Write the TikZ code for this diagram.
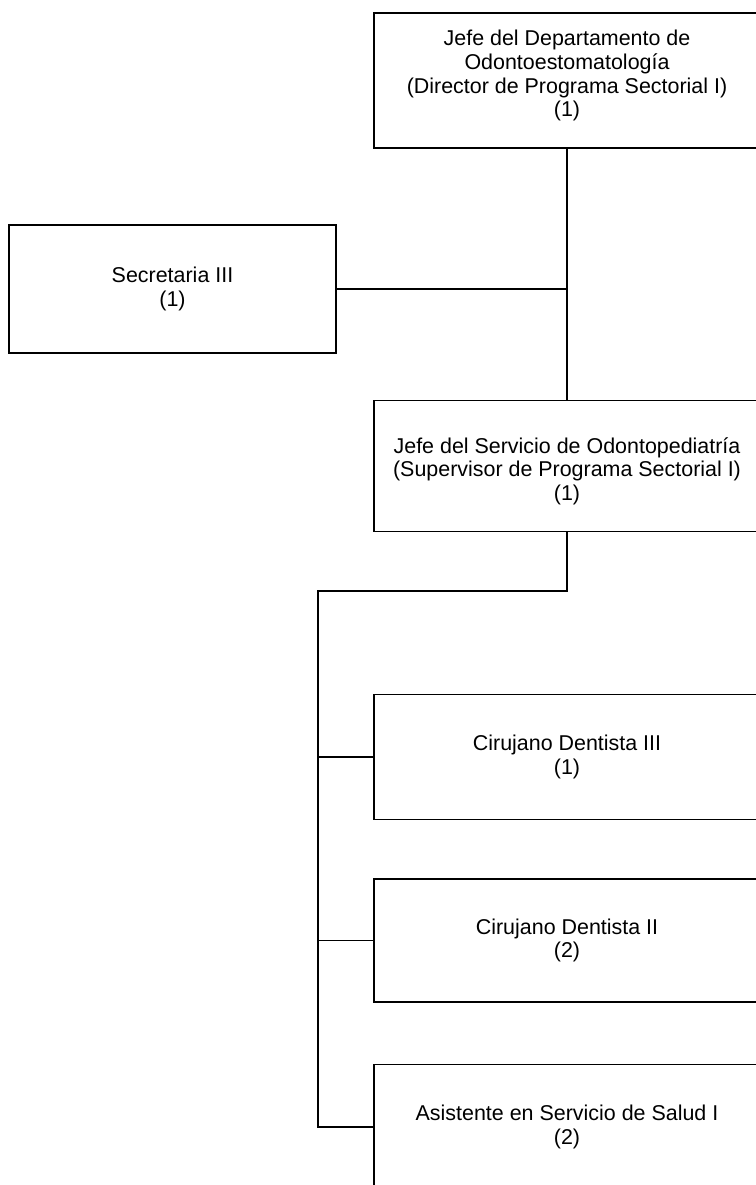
\documentclass[tikz,border=0pt]{standalone}
\usepackage{fontspec}
\setmainfont{Liberation Sans}
\usepackage{tikz}
\usetikzlibrary{positioning,calc}
\tikzset{
  post/.style ={draw, line width=0.9pt, align=center, font=\fontsize{12.2}{13.4}\selectfont, inner sep=2pt, minimum width=7.72cm},
  staff/.style={draw, line width=0.9pt, align=center, font=\fontsize{12.2}{13.4}\selectfont, inner sep=2pt, minimum width=6.54cm, minimum height=2.56cm},
  link/.style ={line width=0.9pt}
}
\begin{document}
\begin{tikzpicture}[x=0.02cm, y=-0.02cm]
  \useasboundingbox (0,0) rectangle (756,1185);
  \clip (0,0) rectangle (756,1185);
  \node[post, minimum height=2.7cm]  (jefe) at (567,80.5)  {Jefe del Departamento de\\Odontoestomatología\\(Director de Programa Sectorial I)\\(1)\rule[-8pt]{0pt}{0pt}};
  \node[staff]                       (sec)  at (172.5,289) {Secretaria III\\(1)};
  \node[post, minimum height=2.62cm] (serv) at (567,466)   {\rule{0pt}{15pt}Jefe del Servicio de Odontopediatría\\(Supervisor de Programa Sectorial I)\\(1)};
  \node[post, minimum height=2.5cm]  (cd3)  at (567,757)   {Cirujano Dentista III\\(1)};
  \node[post, minimum height=2.46cm] (cd2)  at (567,940.5) {Cirujano Dentista II\\(2)};
  \node[post, minimum height=2.5cm]  (asis) at (567,1127)  {Asistente en Servicio de Salud I\\(2)};
  \coordinate (bus) at (318,591);
  \draw[link] (jefe) -- (serv);
  \draw[link] (sec.east) -- (sec.east -| jefe.south);
  \draw[link] (serv.south) -- (serv.south |- bus) -- (bus) -- (bus |- asis.west) -- (asis.west);
  \draw[link] (bus |- cd3.west) -- (cd3.west);
  \draw[link] (bus |- cd2.west) -- (cd2.west);
\end{tikzpicture}
\end{document}
